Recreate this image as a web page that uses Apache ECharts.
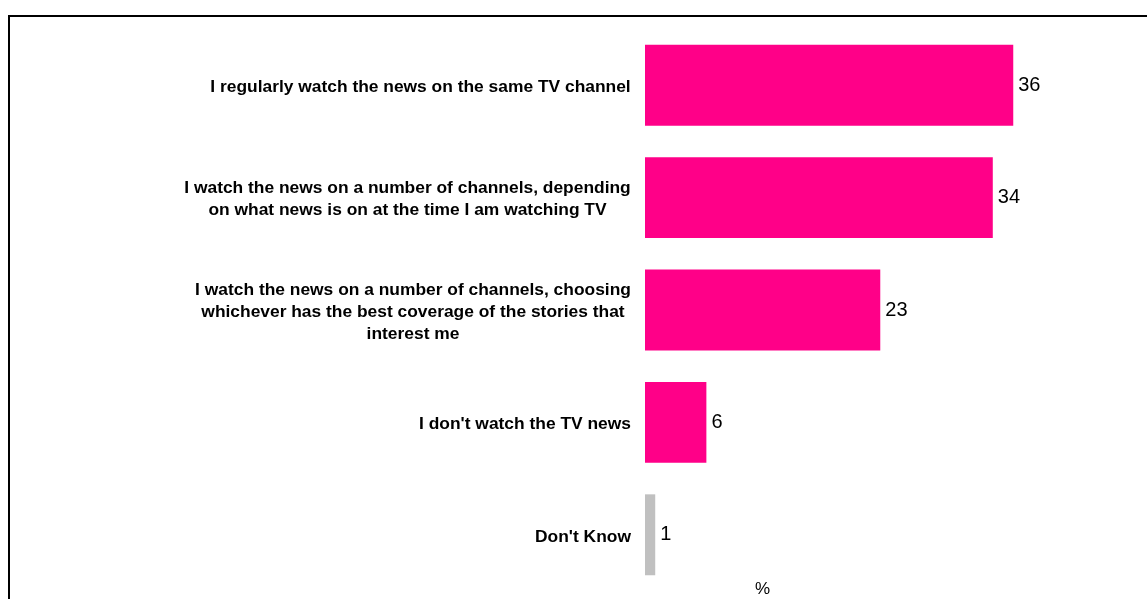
<!DOCTYPE html>
<html>
<head>
<meta charset="utf-8">
<script src="https://cdn.jsdelivr.net/npm/echarts@6/dist/echarts.min.js"></script>
<style>
  html, body { margin: 0; padding: 0; background: #fff; }
  #chart { width: 1147px; height: 599px; }
</style>
</head>
<body>
<div id="chart"></div>
<script>
// Survey answers, top to bottom
const categories = [
  "I regularly watch the news on the same TV channel",
  "I watch the news on a number of channels, depending\non what news is on at the time I am watching TV",
  "I watch the news on a number of channels, choosing\nwhichever has the best coverage of the stories that\ninterest me",
  "I don't watch the TV news",
  "Don't Know"
];
const values = [36, 34, 23, 6, 1];
const barColors = ["#FF0088", "#FF0088", "#FF0088", "#FF0088", "#C0C0C0"];

const labelFontSize = 17.4;
const labelFont = 'bold ' + labelFontSize + 'px "Liberation Sans", Arial, sans-serif';

// Measure each wrapped label so its lines can be centred within the block
const ctx = document.createElement('canvas').getContext('2d');
ctx.font = labelFont;
const rich = {};
categories.forEach((c, i) => {
  const lines = c.split('\n');
  const w = Math.ceil(Math.max(...lines.map(l => ctx.measureText(l).width)));
  rich['l' + i] = {
    width: w,
    align: 'center',
    fontFamily: '"Liberation Sans", Arial, sans-serif',
    fontWeight: 'bold',
    fontSize: labelFontSize,
    lineHeight: 22,
    color: '#000'
  };
});

const chart = echarts.init(document.getElementById('chart'), null, { renderer: 'canvas' });
chart.setOption({
  animation: false,
  backgroundColor: '#fff',
  grid: { left: 645, right: 11, top: 29, bottom: 8 },
  xAxis: {
    type: 'value',
    min: 0,
    max: 48,
    show: false
  },
  yAxis: {
    type: 'category',
    inverse: true,
    data: categories,
    axisLine: { show: false },
    axisTick: { show: false },
    axisLabel: {
      margin: 14,
      padding: [4, 0, 0, 0],
      formatter: function (val, idx) {
        return val.split('\n').map(l => '{l' + idx + '|' + l + '}').join('\n');
      },
      rich: rich
    }
  },
  series: [{
    type: 'bar',
    barCategoryGap: '28%',
    data: values.map((v, i) => ({ value: v, itemStyle: { color: barColors[i] } })),
    label: {
      show: true,
      position: 'right',
      distance: 5,
      color: '#000',
      fontFamily: '"Liberation Sans", Arial, sans-serif',
      fontSize: 20
    }
  }],
  graphic: [
    {
      type: 'rect',
      shape: { x: 9, y: 16, width: 1300, height: 800 },
      style: { fill: 'none', stroke: '#000', lineWidth: 2 },
      silent: true
    },
    {
      type: 'text',
      left: 755,
      top: 581,
      style: {
        text: '%',
        fill: '#000',
        font: '17px "Liberation Sans", Arial, sans-serif'
      }
    }
  ]
});
</script>
</body>
</html>
